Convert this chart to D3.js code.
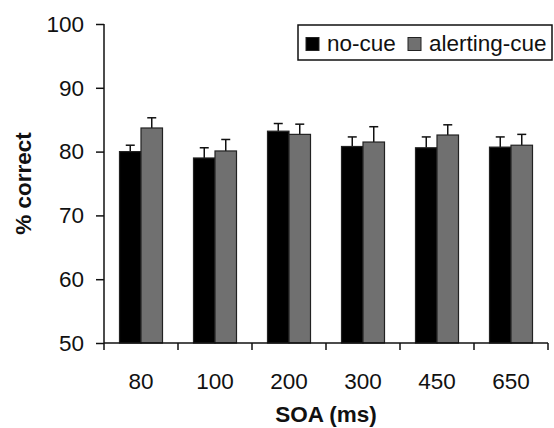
<html>
<head>
<meta charset="utf-8">
<script src="https://d3js.org/d3.v7.min.js"></script>
<style>
  body { margin: 0; background: #fff; }
  text { font-family: "Liberation Sans", Arial, sans-serif; fill: #111; }
</style>
</head>
<body>
<div id="chart"></div>
<script>
    // data
    var soa = ["80", "100", "200", "300", "450", "650"];
    var noCue = [80.0, 79.0, 83.2, 80.8, 80.6, 80.7];
    var noCueErr = [1.0, 1.6, 1.2, 1.5, 1.7, 1.6];
    var alerting = [83.7, 80.1, 82.7, 81.5, 82.6, 81.0];
    var alertingErr = [1.6, 1.8, 1.6, 2.4, 1.6, 1.7];
    var seriesNames = ["no-cue", "alerting-cue"];
    var yTicks = [50, 60, 70, 80, 90, 100];

    var W = 554, H = 428;
    var margin = {top: 24, right: 6, bottom: 85, left: 104};
    var width = W - margin.left - margin.right,
        height = H - margin.top - margin.bottom;

    var svg = d3.select("#chart").append("svg")
        .attr("width", W).attr("height", H);
    var g = svg.append("g")
        .attr("transform", "translate(" + margin.left + "," + margin.top + ")");

    var x = d3.scaleBand().domain(soa).range([0, width]);
    var y = d3.scaleLinear().domain([50, 100]).range([height, 0]);

    var barW = 21.5;
    var colors = ["#000000", "#707070"];
    var groups = soa.map(function(s, i) {
      return [
        {soa: s, k: 0, v: noCue[i], e: noCueErr[i]},
        {soa: s, k: 1, v: alerting[i], e: alertingErr[i]}
      ];
    });
    var bars = [].concat.apply([], groups);

    function bx(d) { return x(d.soa) + x.bandwidth() / 2 - barW + d.k * barW; }

    // error bars (drawn first so bars sit on top of stem)
    var eb = g.selectAll(".err").data(bars).enter().append("g").attr("class", "err")
        .attr("stroke", "#111").attr("stroke-width", 1.5);
    eb.append("line")
        .attr("x1", function(d) { return bx(d) + barW / 2; })
        .attr("x2", function(d) { return bx(d) + barW / 2; })
        .attr("y1", function(d) { return y(d.v); })
        .attr("y2", function(d) { return y(d.v + d.e); });
    eb.append("line")
        .attr("x1", function(d) { return bx(d) + barW / 2 - 4.5; })
        .attr("x2", function(d) { return bx(d) + barW / 2 + 4.5; })
        .attr("y1", function(d) { return y(d.v + d.e); })
        .attr("y2", function(d) { return y(d.v + d.e); });

    g.selectAll(".bar").data(bars).enter().append("rect")
        .attr("x", bx)
        .attr("y", function(d) { return y(d.v); })
        .attr("width", barW)
        .attr("height", function(d) { return height - y(d.v); })
        .attr("fill", function(d) { return colors[d.k]; })
        .attr("stroke", "#222")
        .attr("stroke-width", 1.2);

    // y axis
    var yAxis = g.append("g")
        .call(d3.axisLeft(y).tickValues(yTicks).tickSize(8).tickPadding(12));
    // x axis
    var xAxis = g.append("g")
        .attr("transform", "translate(0," + height + ")")
        .call(d3.axisBottom(x).tickSize(0).tickPadding(30));
    xAxis.selectAll(".tick line").remove();
    // x ticks at category boundaries
    var bounds = soa.map(function(s) { return x(s); }).concat([width]);
    xAxis.selectAll(".bnd").data(bounds).enter().append("line")
        .attr("x1", function(d) { return d; }).attr("x2", function(d) { return d; })
        .attr("y1", 0).attr("y2", 7)
        .attr("stroke", "#111").attr("stroke-width", 1.5);

    [yAxis, xAxis].forEach(function(a) {
      a.select(".domain").attr("stroke", "#111").attr("stroke-width", 1.5);
      a.selectAll(".tick line").attr("stroke", "#111").attr("stroke-width", 1.5);
      a.selectAll("text").style("font-size", "22.5px").attr("fill", "#111");
    });
    yAxis.select(".domain").attr("d", "M0," + height + "V0");
    xAxis.select(".domain").attr("d", "M0,0H" + width);

    // axis titles
    svg.append("text")
        .attr("transform", "translate(31," + (margin.top + height / 2) + ") rotate(-90)")
        .attr("text-anchor", "middle")
        .style("font-size", "22.5px").style("font-weight", "bold")
        .text("% correct");
    svg.append("text")
        .attr("x", margin.left + width / 2).attr("y", 422)
        .attr("text-anchor", "middle")
        .style("font-size", "22.5px").style("font-weight", "bold")
        .text("SOA (ms)");

    // legend
    var lg = svg.append("g").attr("transform", "translate(298,25)");
    lg.append("rect").attr("width", 254).attr("height", 35)
        .attr("fill", "#fff").attr("stroke", "#111").attr("stroke-width", 1.5);
    var lx = [8, 110];
    seriesNames.forEach(function(n, i) {
      lg.append("rect").attr("x", lx[i]).attr("y", 12.5).attr("width", 13).attr("height", 13)
        .attr("fill", colors[i]).attr("stroke", "#222").attr("stroke-width", 1);
      lg.append("text").attr("x", lx[i] + 21).attr("y", 26)
        .style("font-size", "22.5px").text(n);
    });
</script>
</body>
</html>
